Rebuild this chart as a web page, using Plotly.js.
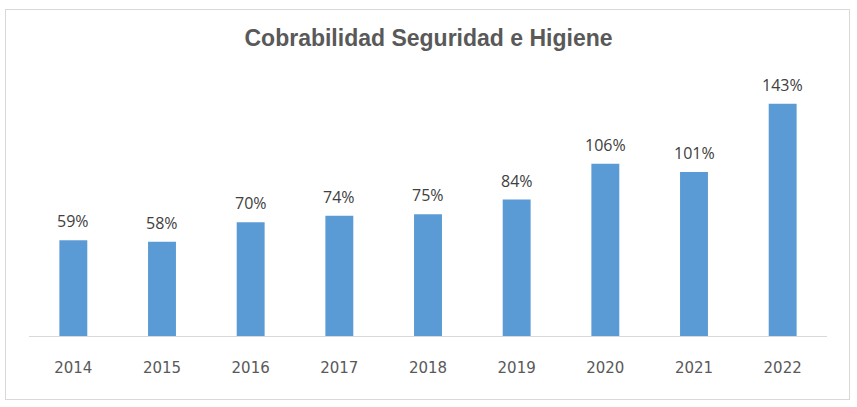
<!DOCTYPE html>
<html>
<head>
<meta charset="utf-8">
<script src="https://cdn.plot.ly/plotly-3.0.1.min.js"></script>
<style>
html,body{margin:0;padding:0;background:#fff;}
#wrap{position:relative;width:857px;height:407px;}
#chart{width:857px;height:407px;}
#frame{position:absolute;left:5px;top:9px;width:843px;height:389px;border:1px solid #d9d9d9;pointer-events:none;}
</style>
</head>
<body>
<div id="wrap"><div id="chart"></div><div id="frame"></div></div>
<script>
var years = ['2014','2015','2016','2017','2018','2019','2020','2021','2022'];
var values = [59, 58, 70, 74, 75, 84, 106, 101, 143];
var labels = ['59%','58%','70%','74%','75%','84%','106%','101%','143%'];

var trace = {
  type: 'bar',
  x: years,
  y: values,
  marker: {color: '#5B9BD5'},
  hoverinfo: 'x+y'
};

var annotations = years.map(function(yr, i){
  return {x: i, y: values[i], text: labels[i], showarrow: false,
    xref: 'x', yref: 'y', yanchor: 'bottom', yshift: 6,
    font: {family: 'Open Sans, sans-serif', size: 16, color: '#404040'}};
});

var layout = {
  width: 857, height: 407,
  margin: {l: 29, r: 30, t: 76, b: 71},
  paper_bgcolor: '#ffffff', plot_bgcolor: '#ffffff',
  bargap: 0.685,
  showlegend: false,
  title: {text: '<b>Cobrabilidad Seguridad e Higiene</b>', x: 0.5, xanchor: 'center', y: 0.906, yanchor: 'middle',
    font: {family: 'Liberation Sans, Arial, sans-serif', size: 23, color: '#595959'}},
  xaxis: {type: 'category', range: [-0.5, years.length - 0.5], autorange: false,
    showgrid: false, zeroline: false, showline: true, linecolor: '#d9d9d9', linewidth: 1,
    ticks: '', ticklabelstandoff: 18,
    tickfont: {family: 'DejaVu Sans, sans-serif', size: 15, color: '#595959'}},
  yaxis: {range: [0, 160], autorange: false, visible: false, showgrid: false, zeroline: false},
  annotations: annotations
};

Plotly.newPlot('chart', [trace], layout, {displayModeBar: false, staticPlot: true});
</script>
</body>
</html>
